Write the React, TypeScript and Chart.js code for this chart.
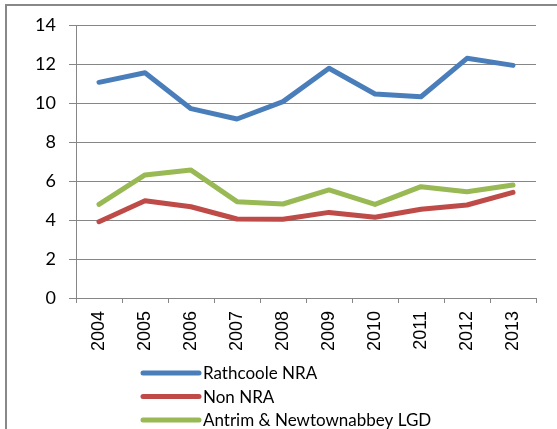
import React, { useEffect, useRef } from "react";
import { Chart, registerables } from "chart.js";

Chart.register(...registerables);

const categories = ["2004", "2005", "2006", "2007", "2008", "2009", "2010", "2011", "2012", "2013"];
const rathcoole = [11.06, 11.55, 9.71, 9.18, 10.07, 11.78, 10.46, 10.32, 12.29, 11.93];
const nonNra = [3.91, 4.99, 4.68, 4.05, 4.04, 4.39, 4.14, 4.55, 4.77, 5.42];
const antrim = [4.8, 6.31, 6.56, 4.94, 4.82, 5.54, 4.8, 5.71, 5.45, 5.79];
const seriesNames = ["Rathcoole NRA", "Non NRA", "Antrim & Newtownabbey LGD"];
const seriesColors = ["#4A7EBB", "#BE4B48", "#98B954"];

const GRID = "#868686";

const legendPlugin = {
  id: "customLegend",
  afterDraw(chart: any) {
    const ctx = chart.ctx;
    const left = chart.chartArea.left + 67;
    const top = 373;
    ctx.save();
    chart.data.datasets.forEach((ds: any, i: number) => {
      const y = top + i * 23.5;
      ctx.strokeStyle = ds.borderColor;
      ctx.lineWidth = 5;
      ctx.lineCap = "round";
      ctx.beginPath();
      ctx.moveTo(left, y);
      ctx.lineTo(left + 56, y);
      ctx.stroke();
      ctx.fillStyle = "#000";
      ctx.font = "17px Lato";
      ctx.textBaseline = "middle";
      ctx.textAlign = "left";
      ctx.fillText(ds.label, left + 60, y + 1);
    });
    ctx.restore();
  },
};

export default function App() {
  const ref = useRef<HTMLCanvasElement | null>(null);
  useEffect(() => {
    if (!ref.current) return;
    const datasets = [rathcoole, nonNra, antrim].map((d, i) => ({
      label: seriesNames[i],
      data: d,
      borderColor: seriesColors[i],
      backgroundColor: seriesColors[i],
      borderWidth: 5,
      pointRadius: 0,
      tension: 0,
      borderCapStyle: "round" as const,
      borderJoinStyle: "round" as const,
      order: 2 - i,
    }));
    const chart = new Chart(ref.current, {
      type: "line",
      data: { labels: categories, datasets },
      options: {
        animation: false,
        responsive: false,
        devicePixelRatio: 1,
        layout: { padding: { left: 0, right: 21, top: 25, bottom: 0 } },
        plugins: { legend: { display: false }, tooltip: { enabled: false } },
        scales: {
          x: {
            offset: true,
            grid: {
              offset: true,
              drawOnChartArea: false,
              drawTicks: true,
              tickLength: 5,
              color: GRID,
              lineWidth: 1,
            },
            border: { color: GRID, width: 1 },
            ticks: {
              minRotation: 90,
              maxRotation: 90,
              padding: 8,
              color: "#000",
              font: { family: "Liberation Sans", size: 18 },
            },
            afterFit: (s: any) => {
              s.height = 131;
            },
          },
          y: {
            min: 0,
            max: 14,
            ticks: {
              stepSize: 2,
              padding: 13,
              color: "#000",
              font: { family: "Lato", size: 18 },
            },
            grid: { color: GRID, lineWidth: 1, tickLength: 7 },
            border: { color: GRID, width: 1 },
            afterFit: (s: any) => {
              s.width = 76;
            },
          },
        },
      },
      plugins: [legendPlugin],
    });
    return () => chart.destroy();
  }, []);
  return (
    <div style={{ position: "absolute", left: 0, top: 0, width: 557, height: 429, background: "#fff", overflow: "hidden" }}>
      <div
        style={{
          position: "absolute",
          left: 5,
          top: 4,
          width: 600,
          height: 500,
          borderLeft: "2px solid #888",
          borderTop: "2px solid #888",
        }}
      />
      <canvas ref={ref} width={557} height={429} style={{ position: "absolute", left: 0, top: 0 }} />
    </div>
  );
}
